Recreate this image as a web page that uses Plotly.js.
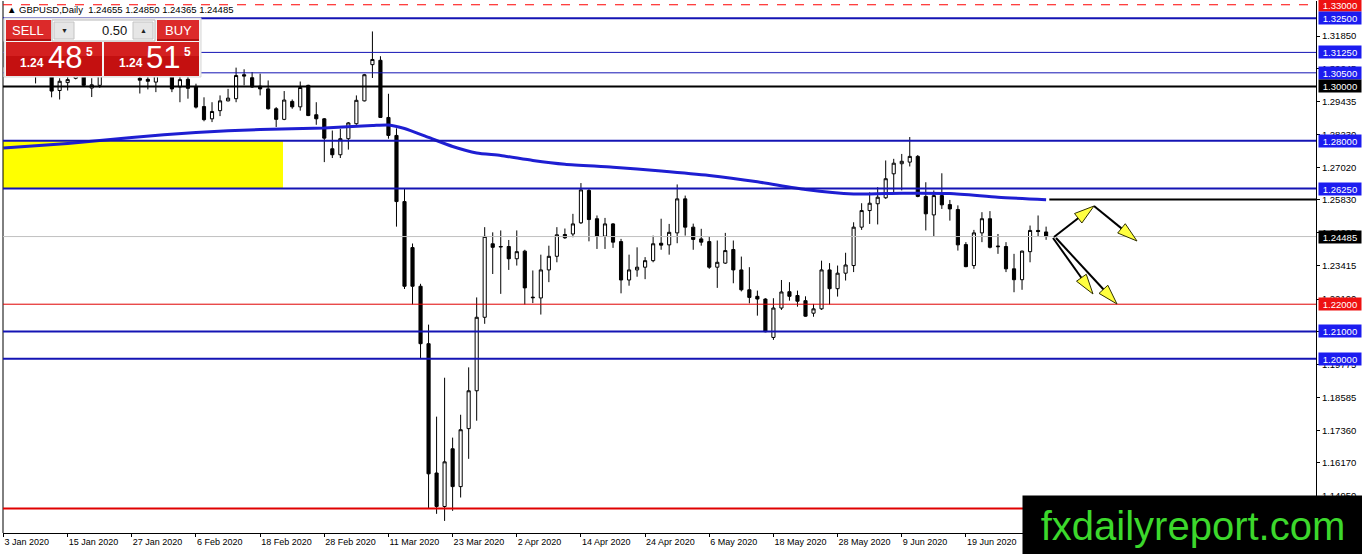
<!DOCTYPE html>
<html>
<head>
<meta charset="utf-8">
<script src="https://cdn.plot.ly/plotly-3.0.1.min.js"></script>
<style>
html, body { margin: 0; padding: 0; background: #fff; overflow: hidden; }
#chart { width: 1362px; height: 554px; }
</style>
</head>
<body>
<div id="chart"></div>
<script>
// GBPUSD daily bars, 3 Jan 2020 .. 3 Jul 2020 (bar index = position on the time axis)
const opens = [
    1.3145, 1.3080, 1.3155, 1.3135, 1.3108, 1.3065, 1.3060, 1.2985, 1.3014, 1.3030,
    1.3070, 1.2994, 1.3004, 1.3045, 1.3125, 1.3110, 1.3080, 1.3030, 1.3026, 1.3016,
    1.3090, 1.3205, 1.2998, 1.3026, 1.3000, 1.2926, 1.2881, 1.2911, 1.2947, 1.2955,
    1.3043, 1.3032, 1.3001, 1.2991, 1.2918, 1.2879, 1.2945, 1.2925, 1.3004, 1.2896,
    1.2881, 1.2771, 1.2749, 1.2808, 1.2863, 1.2947, 1.3080, 1.3096, 1.2886, 1.2820,
    1.2577, 1.2408, 1.2266, 1.2055, 1.1580, 1.1457, 1.1669, 1.1530, 1.1743, 1.1882,
    1.2152, 1.2422, 1.2410, 1.2412, 1.2367, 1.2395, 1.2226, 1.2223, 1.2326, 1.2376,
    1.2456, 1.2458, 1.2499, 1.2618, 1.2514, 1.2450, 1.2495, 1.2430, 1.2289, 1.2326,
    1.2336, 1.2360, 1.2424, 1.2418, 1.2462, 1.2587, 1.2483, 1.2440, 1.2430, 1.2336,
    1.2351, 1.2401, 1.2326, 1.2253, 1.2229, 1.2219, 1.2078, 1.2186, 1.2246, 1.2232,
    1.2213, 1.2167, 1.2183, 1.2326, 1.2257, 1.2314, 1.2342, 1.2483, 1.2544, 1.2569,
    1.2591, 1.2679, 1.2716, 1.2722, 1.2743, 1.2596, 1.2528, 1.2599, 1.2566, 1.2548,
    1.2419, 1.2342, 1.2462, 1.2514, 1.2411, 1.2412, 1.2330, 1.2290, 1.2393, 1.2471,
    1.24655
];
const highs = [
    1.3165, 1.3163, 1.3215, 1.3150, 1.3120, 1.3110, 1.3070, 1.3030, 1.3050, 1.3090,
    1.3090, 1.3030, 1.3075, 1.3150, 1.3155, 1.3140, 1.3100, 1.3060, 1.3060, 1.3105,
    1.3210, 1.3210, 1.3040, 1.3040, 1.3010, 1.2960, 1.2942, 1.2967, 1.2991, 1.3069,
    1.3063, 1.3053, 1.3047, 1.3022, 1.2924, 1.2983, 1.2952, 1.3018, 1.3006, 1.2942,
    1.2884, 1.2838, 1.2844, 1.2869, 1.2967, 1.3046, 1.3202, 1.3111, 1.2973, 1.2846,
    1.2625, 1.2423, 1.2275, 1.2125, 1.1787, 1.1930, 1.1710, 1.1794, 1.1968, 1.2225,
    1.2483, 1.2464, 1.2471, 1.2436, 1.2471, 1.2400, 1.2324, 1.2382, 1.2415, 1.2483,
    1.2478, 1.2532, 1.2645, 1.2624, 1.2526, 1.2517, 1.2498, 1.2440, 1.2382, 1.2409,
    1.2373, 1.2452, 1.2514, 1.2495, 1.2640, 1.2599, 1.2496, 1.2477, 1.2449, 1.2434,
    1.2462, 1.2434, 1.2375, 1.2336, 1.2250, 1.2222, 1.2222, 1.2289, 1.2281, 1.2250,
    1.2229, 1.2201, 1.2360, 1.2351, 1.2342, 1.2389, 1.2501, 1.2571, 1.2611, 1.2630,
    1.2728, 1.2734, 1.2752, 1.2814, 1.2748, 1.2648, 1.2618, 1.2681, 1.2583, 1.2563,
    1.2428, 1.2473, 1.2538, 1.2542, 1.2458, 1.2428, 1.2385, 1.2397, 1.2489, 1.2526,
    1.24850
];
const lows = [
    1.3070, 1.3070, 1.3100, 1.3070, 1.3011, 1.3040, 1.2960, 1.2952, 1.2985, 1.3026,
    1.2998, 1.2961, 1.2995, 1.3040, 1.3085, 1.3060, 1.3042, 1.2974, 1.2989, 1.2979,
    1.3070, 1.2979, 1.2942, 1.2955, 1.2919, 1.2872, 1.2869, 1.2891, 1.2945, 1.2942,
    1.3004, 1.2995, 1.2967, 1.2915, 1.2851, 1.2876, 1.2918, 1.2911, 1.2891, 1.2859,
    1.2722, 1.2737, 1.2737, 1.2768, 1.2859, 1.2945, 1.3031, 1.2884, 1.2808, 1.2485,
    1.2256, 1.2199, 1.2000, 1.1450, 1.1430, 1.1404, 1.1441, 1.1490, 1.1632, 1.1772,
    1.2128, 1.2311, 1.2238, 1.2326, 1.2342, 1.2199, 1.2204, 1.2162, 1.2281, 1.2354,
    1.2440, 1.2446, 1.2495, 1.2431, 1.2403, 1.2403, 1.2407, 1.2240, 1.2268, 1.2301,
    1.2292, 1.2354, 1.2400, 1.2382, 1.2424, 1.2452, 1.2400, 1.2415, 1.2330, 1.2260,
    1.2348, 1.2277, 1.2247, 1.2203, 1.2158, 1.2097, 1.2069, 1.2179, 1.2213, 1.2191,
    1.2154, 1.2154, 1.2179, 1.2199, 1.2228, 1.2287, 1.2318, 1.2473, 1.2495, 1.2493,
    1.2587, 1.2605, 1.2618, 1.2706, 1.2593, 1.2471, 1.2449, 1.2550, 1.2507, 1.2397,
    1.2336, 1.2330, 1.2428, 1.2405, 1.2385, 1.2318, 1.2244, 1.2253, 1.2354, 1.2449,
    1.24365
];
const closes = [
    1.3080, 1.3155, 1.3135, 1.3108, 1.3065, 1.3060, 1.2983, 1.3019, 1.3025, 1.3070,
    1.3004, 1.3006, 1.3045, 1.3125, 1.3110, 1.3080, 1.3070, 1.3023, 1.3019, 1.3090,
    1.3205, 1.2991, 1.3025, 1.2993, 1.2924, 1.2878, 1.2908, 1.2947, 1.2957, 1.3040,
    1.3038, 1.2998, 1.2991, 1.2918, 1.2879, 1.2950, 1.2925, 1.2996, 1.2893, 1.2881,
    1.2810, 1.2749, 1.2808, 1.2866, 1.2949, 1.3043, 1.3099, 1.2886, 1.2820, 1.2577,
    1.2266, 1.2266, 1.2055, 1.1577, 1.1457, 1.1621, 1.1530, 1.1739, 1.1882, 1.2152,
    1.2449, 1.2409, 1.2412, 1.2367, 1.2393, 1.2260, 1.2224, 1.2326, 1.2376, 1.2455,
    1.2444, 1.2495, 1.2620, 1.2511, 1.2450, 1.2495, 1.2428, 1.2289, 1.2326, 1.2336,
    1.2360, 1.2422, 1.2417, 1.2464, 1.2587, 1.2483, 1.2438, 1.2428, 1.2336, 1.2354,
    1.2397, 1.2326, 1.2253, 1.2225, 1.2219, 1.2099, 1.2186, 1.2245, 1.2229, 1.2211,
    1.2156, 1.2183, 1.2326, 1.2257, 1.2314, 1.2344, 1.2483, 1.2544, 1.2571, 1.2593,
    1.2661, 1.2718, 1.2725, 1.2743, 1.2596, 1.2532, 1.2599, 1.2565, 1.2550, 1.2418,
    1.2338, 1.2462, 1.2514, 1.2409, 1.2413, 1.2330, 1.2290, 1.2395, 1.2471, 1.2467,
    1.24485
];

// time axis labels (every 8 bars)
const tickBars = [0, 8, 16, 24, 32, 40, 48, 56, 64, 72, 80, 88, 96, 104, 112, 120];
const tickDates = ['3 Jan 2020', '15 Jan 2020', '27 Jan 2020', '6 Feb 2020', '18 Feb 2020',
    '28 Feb 2020', '11 Mar 2020', '23 Mar 2020', '2 Apr 2020', '14 Apr 2020', '24 Apr 2020',
    '6 May 2020', '18 May 2020', '28 May 2020', '9 Jun 2020', '19 Jun 2020'];

// price scale labels
const priceTicks = [1.31850, 1.30645, 1.29435, 1.28230, 1.27020, 1.25830, 1.24625, 1.23415,
    1.22190, 1.20990, 1.19775, 1.18585, 1.17360, 1.16170, 1.14950];

// moving average read at some bars
const maBars = [0, 8, 16, 24, 32, 40, 46, 48, 50, 53, 56, 59, 62, 66, 70, 76, 82, 88, 94, 100, 106, 112, 118, 124, 130];
const maValues = [1.27739, 1.27907, 1.28125, 1.28309, 1.28419, 1.28474, 1.28566, 1.28585, 1.28456,
    1.28125, 1.27794, 1.27555, 1.27463, 1.27279, 1.27140, 1.27033, 1.26893, 1.26728, 1.26496,
    1.26213, 1.26048, 1.26077, 1.26066, 1.25930, 1.25835];

// horizontal levels
const levels = [1.33, 1.325, 1.3125, 1.305, 1.30, 1.28, 1.2625, 1.22, 1.21, 1.20, 1.145];
const trendLevel = 1.2585;
const zoneTop = 1.28;
const zoneBottom = 1.2625;

const BLUE = '#1414b4';
const levelStyles = [
    {color: '#ff0000', width: 1, dash: 'dash', box: '#ee1111'},
    {color: BLUE, width: 2, dash: 'solid', box: '#1c1cf0'},
    {color: BLUE, width: 1, dash: 'solid', box: '#1c1cf0'},
    {color: BLUE, width: 1, dash: 'solid', box: '#1c1cf0'},
    {color: '#000000', width: 2, dash: 'solid', box: '#000000'},
    {color: BLUE, width: 2, dash: 'solid', box: '#1c1cf0'},
    {color: BLUE, width: 2, dash: 'solid', box: '#1c1cf0'},
    {color: '#e00000', width: 1, dash: 'solid', box: '#ee1111'},
    {color: BLUE, width: 2, dash: 'solid', box: '#1c1cf0'},
    {color: BLUE, width: 2, dash: 'solid', box: '#1c1cf0'},
    {color: '#e00000', width: 2, dash: 'solid', box: '#ee1111'}
];

const FONT = 'Liberation Sans, Arial, sans-serif';
const M = {l: 3, r: 46, t: 1, b: 21};
const PW = 1362 - M.l - M.r, PH = 554 - M.t - M.b;
const px = x => (x - M.l) / PW;
const py = y => 1 - (y - M.t) / PH;

const bars = opens.map((_, i) => i);
const last = bars.length - 1;

const shapes = [];
const annotations = [];

// yellow zone
shapes.push({type: 'rect', layer: 'below', xref: 'paper', yref: 'y', x0: 0, x1: px(283),
    y0: zoneBottom, y1: zoneTop, fillcolor: '#ffff00', line: {width: 0}});

// left border
shapes.push({type: 'line', xref: 'paper', yref: 'paper', x0: 0, x1: 0, y0: 0, y1: 1,
    line: {color: '#000', width: 1}});

levels.forEach((p, i) => {
    const s = levelStyles[i];
    shapes.push({type: 'line', xref: 'paper', yref: 'y', x0: 0, x1: 1, y0: p, y1: p,
        line: {color: s.color, width: s.width, dash: s.dash}});
});

// bid line
const bid = closes[last];
shapes.push({type: 'line', xref: 'paper', yref: 'y', x0: 0, x1: 1, y0: bid, y1: bid,
    line: {color: '#c0c0c0', width: 1}});

// short trend line on the right
shapes.push({type: 'line', xref: 'x', yref: 'y', x0: last + 0.4, x1: 170, y0: trendLevel, y1: trendLevel,
    line: {color: '#000', width: 2}});

// arrows (pixel positions of the drawing)
const arrow = (x0, y0, x1, y1) => {
    const dx = x1 - x0, dy = y1 - y0, len = Math.hypot(dx, dy);
    const ux = dx / len, uy = dy / len;
    const bx = x1 - ux * 20, by = y1 - uy * 20;
    const nx = -uy * 6, ny = ux * 6;
    shapes.push({type: 'line', xref: 'paper', yref: 'paper', x0: px(x0), y0: py(y0), x1: px(bx + ux * 4), y1: py(by + uy * 4),
        line: {color: '#000', width: 2}});
    shapes.push({type: 'path', xref: 'paper', yref: 'paper',
        path: `M ${px(x1)} ${py(y1)} L ${px(bx + nx)} ${py(by + ny)} L ${px(bx - nx)} ${py(by - ny)} Z`,
        fillcolor: '#ffff40', line: {color: '#303000', width: 1}});
};
arrow(1054, 237, 1094, 206);
arrow(1094, 206, 1137, 241);
arrow(1053, 238, 1093, 294);
arrow(1056, 238, 1117, 304);

// one-click trading panel
const rect = (x0, y0, x1, y1, fill, line) => shapes.push({type: 'rect', xref: 'paper', yref: 'paper',
    x0: px(x0), x1: px(x1), y0: py(y1), y1: py(y0), fillcolor: fill,
    line: line ? {color: line, width: 1} : {width: 0}});
rect(4, 18, 201, 77, '#f4f4f4', '#d8d8d8');
rect(6, 20, 51, 41, '#dc2a2a');
rect(6, 39, 51, 41, '#b01010');
rect(52, 20, 155, 41, '#ffffff', '#b8b8b8');
rect(54, 22, 74, 39, '#e6e6e6', '#c4c4c4');
rect(133, 22, 153, 39, '#e6e6e6', '#c4c4c4');
rect(157, 20, 199, 41, '#dc2a2a');
rect(157, 39, 199, 41, '#b01010');
rect(6, 42, 102, 76, '#c41010');
rect(6, 42, 102, 56, '#d42020');
rect(104, 42, 199, 76, '#c41010');
rect(104, 42, 199, 56, '#d42020');

const label = (x, y, text, size, color, anchor, extra) => annotations.push(Object.assign({
    xref: 'paper', yref: 'paper', x: px(x), y: py(y), xanchor: anchor || 'center', yanchor: 'middle',
    text: text, showarrow: false, font: {family: FONT, size: size, color: color}
}, extra || {}));

label(28, 31, 'SELL', 13, '#fff');
label(64, 30, '▼', 7, '#222');
label(129, 30.5, '0.50', 13, '#111', 'right');
label(143, 30, '▲', 7, '#222');
label(178, 31, 'BUY', 13, '#fff');
label(32, 63, '<b>1.24</b>', 12, '#fff');
label(65, 58, '48', 31, '#fff');
label(89, 52, '<b>5</b>', 12, '#fff');
label(131, 63, '<b>1.24</b>', 12, '#fff');
label(163, 58, '51', 31, '#fff');
label(187, 52, '<b>5</b>', 12, '#fff');

// header
const hdr = [opens[last], highs[last], lows[last], closes[last]].map(v => v.toFixed(5)).join(' ');
label(5, 10, '▲ GBPUSD,Daily  ' + hdr, 9.5, '#000', 'left');

// price boxes on the right scale
levels.forEach((p, i) => {
    annotations.push({xref: 'paper', yref: 'y', x: 1, xanchor: 'left', xshift: 2, y: p, yanchor: 'middle',
        text: p.toFixed(5), showarrow: false, bgcolor: levelStyles[i].box, width: 40, height: 10, borderpad: 1,
        font: {family: FONT, size: 9.5, color: '#fff'}});
});
annotations.push({xref: 'paper', yref: 'y', x: 1, xanchor: 'left', xshift: 2, y: bid, yanchor: 'middle',
    text: bid.toFixed(5), showarrow: false, bgcolor: '#000', width: 40, height: 10, borderpad: 1,
    font: {family: FONT, size: 9.5, color: '#fff'}});

// watermark
annotations.push({xref: 'paper', yref: 'paper', x: px(1022), xanchor: 'left', y: py(495), yanchor: 'top',
    text: 'fxdailyreport.com', showarrow: false, bgcolor: '#000', width: 338, height: 58, borderpad: 1,
    font: {family: FONT, size: 40, color: '#3cd82c'}});

const traces = [
    {
        type: 'candlestick', x: bars, open: opens, high: highs, low: lows, close: closes,
        increasing: {line: {color: '#000', width: 1}, fillcolor: '#ffffff'},
        decreasing: {line: {color: '#000', width: 1}, fillcolor: '#000000'},
        whiskerwidth: 0, hoverinfo: 'skip', showlegend: false
    },
    {
        type: 'scatter', mode: 'lines', x: maBars, y: maValues,
        line: {color: '#1e1ed2', width: 3, shape: 'spline', smoothing: 0.6},
        hoverinfo: 'skip', showlegend: false
    }
];

const layout = {
    width: 1362, height: 554,
    margin: M,
    paper_bgcolor: '#fff', plot_bgcolor: '#fff',
    showlegend: false, hovermode: false,
    boxgap: 0.44,
    xaxis: {
        range: [(M.l - 3.5) / 8.02, (M.l + PW - 3.5) / 8.02],
        tickvals: tickBars, ticktext: tickDates,
        ticks: 'outside', ticklen: 3, tickcolor: '#000', tickwidth: 1,
        ticklabelposition: 'outside right',
        tickfont: {family: FONT, size: 9, color: '#000'},
        showgrid: false, zeroline: false, showline: true, linecolor: '#000', linewidth: 1,
        rangeslider: {visible: false}, fixedrange: true
    },
    yaxis: {
        side: 'right',
        range: [1.13596, 1.33138],
        tickvals: priceTicks, ticktext: priceTicks.map(v => v.toFixed(5)),
        ticks: 'outside', ticklen: 3, tickcolor: '#000', tickwidth: 1,
        tickfont: {family: FONT, size: 9.5, color: '#000'},
        showgrid: false, zeroline: false, showline: true, linecolor: '#000', linewidth: 1,
        fixedrange: true
    },
    shapes: shapes,
    annotations: annotations
};

Plotly.newPlot('chart', traces, layout, {displayModeBar: false, staticPlot: true});
</script>
</body>
</html>
